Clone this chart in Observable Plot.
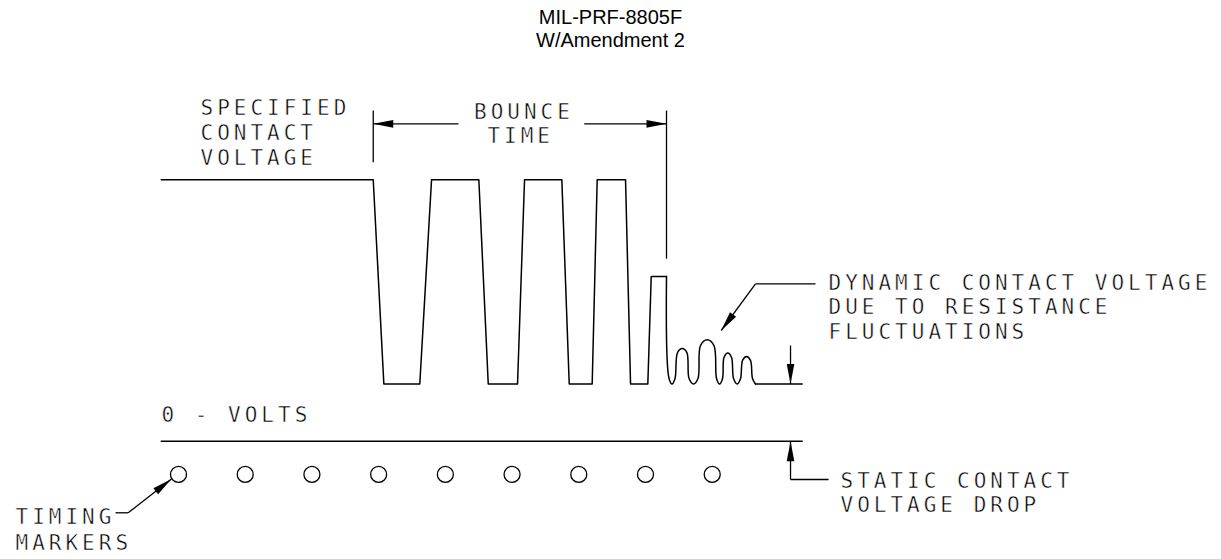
<!DOCTYPE html>
<html><head><meta charset="utf-8">
<script src="https://cdn.jsdelivr.net/npm/d3@7"></script>
<script src="https://cdn.jsdelivr.net/npm/@observablehq/plot@0.6"></script>
<style>
body{margin:0;background:#fff;}
#title{height:62px;box-sizing:border-box;padding-top:6px;font-family:"Liberation Sans",Arial,sans-serif;font-size:20px;line-height:23px;text-align:center;color:#000;}
#chart svg{display:block;}
</style></head><body>
<div id="title">MIL-PRF-8805F<br>W/Amendment 2</div>
<div id="chart"></div>
<script>
// Time in timing-marker units, voltage in arbitrary units (specified contact voltage = 10)
const markerTimes = [0, 1, 2, 3, 4, 5, 6, 7, 8];
const markerVolts = -1.27;

const bounceT = [-0.259, 2.919, 3.078, 3.617, 3.793, 4.502, 4.643, 5.082, 5.187, 5.746, 5.857, 6.201, 6.276, 6.701, 6.776, 7.035, 7.086, 7.315];
const bounceV = [10, 10, 2.19, 2.19, 10, 10, 2.19, 2.19, 10, 10, 2.19, 2.19, 10, 10, 2.19, 2.19, 6.30, 6.30];

const ringT = [7.315, 7.353, 7.398, 7.443, 7.480, 7.551, 7.621, 7.653, 7.720, 7.787, 7.825, 7.925, 8.026, 8.065, 8.110, 8.155, 8.177, 8.234, 8.290, 8.320, 8.375, 8.425, 8.455, 8.515, 8.574, 8.604, 8.649];
const ringV = [6.30, 2.40, 2.19, 2.40, 3.39, 3.55, 3.39, 2.40, 2.19, 2.40, 3.66, 3.88, 3.66, 2.40, 2.19, 2.40, 3.20, 3.37, 3.20, 2.40, 2.19, 2.40, 3.09, 3.24, 3.09, 2.40, 2.19];

const tailT = [8.649, 9.349];
const tailV = [2.19, 2.19];

const zeroT = [-0.259, 9.349];
const zeroV = [0, 0];

// leader / dimension segments: [t1, v1, t2, v2, arrowAtEnd]
const leaders = [
  [2.919, 12.65, 2.919, 10.67, false],
  [7.315, 12.65, 7.315, 6.98, false],
  [4.197, 12.14, 2.919, 12.14, true],
  [6.082, 12.14, 7.315, 12.14, true],
  [9.174, 3.66, 9.174, 2.19, true],
  [9.744, -1.465, 9.174, -1.465, false],
  [9.174, -1.465, 9.174, 0, true],
  [9.549, 6.02, 8.649, 6.02, false],
  [8.649, 6.02, 8.135, 4.235, true],
  [-0.944, -2.739, -0.754, -2.739, false],
  [-0.754, -2.739, -0.105, -1.446, true]
];

const labelText = ["SPECIFIED", "CONTACT", "VOLTAGE", "BOUNCE", "TIME",
  "DYNAMIC CONTACT VOLTAGE", "DUE TO RESISTANCE", "FLUCTUATIONS",
  "0 - VOLTS", "STATIC CONTACT", "VOLTAGE DROP", "TIMING", "MARKERS"];
const labelT = [0.33, 0.33, 0.33, 4.43, 4.63, 9.744, 9.744, 9.744, -0.255, 9.923, 9.923, -2.443, -2.443];
const labelV = [12.73, 11.79, 10.81, 12.59, 11.66, 6.03, 5.115, 4.178, 0.983, -1.542, -2.46, -2.919, -3.914];

// build tables
const pts = (T, V) => T.map((t, i) => ({t, v: V[i]}));
const bounce = pts(bounceT, bounceV);
const ring = pts(ringT, ringV);
const tail = pts(tailT, tailV);
const zero = pts(zeroT, zeroV);
const segs = leaders.map(([t1, v1, t2, v2, arrow]) => ({t1, v1, t2, v2, arrow}));
const labels = labelText.map((text, i) => ({text, t: labelT[i], v: labelV[i]}));

const xOpt = {domain: [0, 8], range: [178, 711.7], axis: null};
const yOpt = {domain: [0, 10], range: [378.7, 117.3], axis: null};
const X = Plot.scale({x: xOpt});
const Y = Plot.scale({y: yOpt});
const tips = segs.filter(s => s.arrow).map(s => {
  const dx = X.apply(s.t2) - X.apply(s.t1);
  const dy = Y.apply(s.v2) - Y.apply(s.v1);
  return {t: s.t2, v: s.v2, angle: Math.atan2(dx, -dy) * 180 / Math.PI};
});

const arrowHead = {draw(ctx) { ctx.moveTo(0, 0); ctx.lineTo(-3.8, 20); ctx.lineTo(3.8, 20); ctx.closePath(); }};

const ink = "#000";
const font = "DejaVu Sans Mono";

const chart = Plot.plot({
  width: 1221,
  height: 497,
  margin: 0,
  x: xOpt,
  y: yOpt,
  style: {background: "#fff", color: ink},
  marks: [
    Plot.line(bounce, {x: "t", y: "v", stroke: ink, strokeWidth: 1.5, curve: "linear"}),
    Plot.line(ring, {x: "t", y: "v", stroke: ink, strokeWidth: 1.5, curve: "catmull-rom"}),
    Plot.line(tail, {x: "t", y: "v", stroke: ink, strokeWidth: 1.5}),
    Plot.line(zero, {x: "t", y: "v", stroke: ink, strokeWidth: 1.5}),
    Plot.link(segs, {x1: "t1", y1: "v1", x2: "t2", y2: "v2", stroke: ink, strokeWidth: 1.3}),
    Plot.dot(tips, {x: "t", y: "v", rotate: "angle", symbol: arrowHead, fill: ink, stroke: "none", r: 5}),
    Plot.dot(markerTimes, {x: d => d, y: () => markerVolts, r: 8, stroke: ink, fill: "none", strokeWidth: 1.3}),
    Plot.text(labels, {x: "t", y: "v", text: "text", textAnchor: "start", fontFamily: font, fontSize: 21, fill: ink,
      stroke: "#fff", strokeWidth: 0.5, paintOrder: "normal"})
  ]
});
chart.querySelectorAll("text").forEach(t => t.setAttribute("letter-spacing", "4"));
document.getElementById("chart").appendChild(chart);
</script>
</body></html>
